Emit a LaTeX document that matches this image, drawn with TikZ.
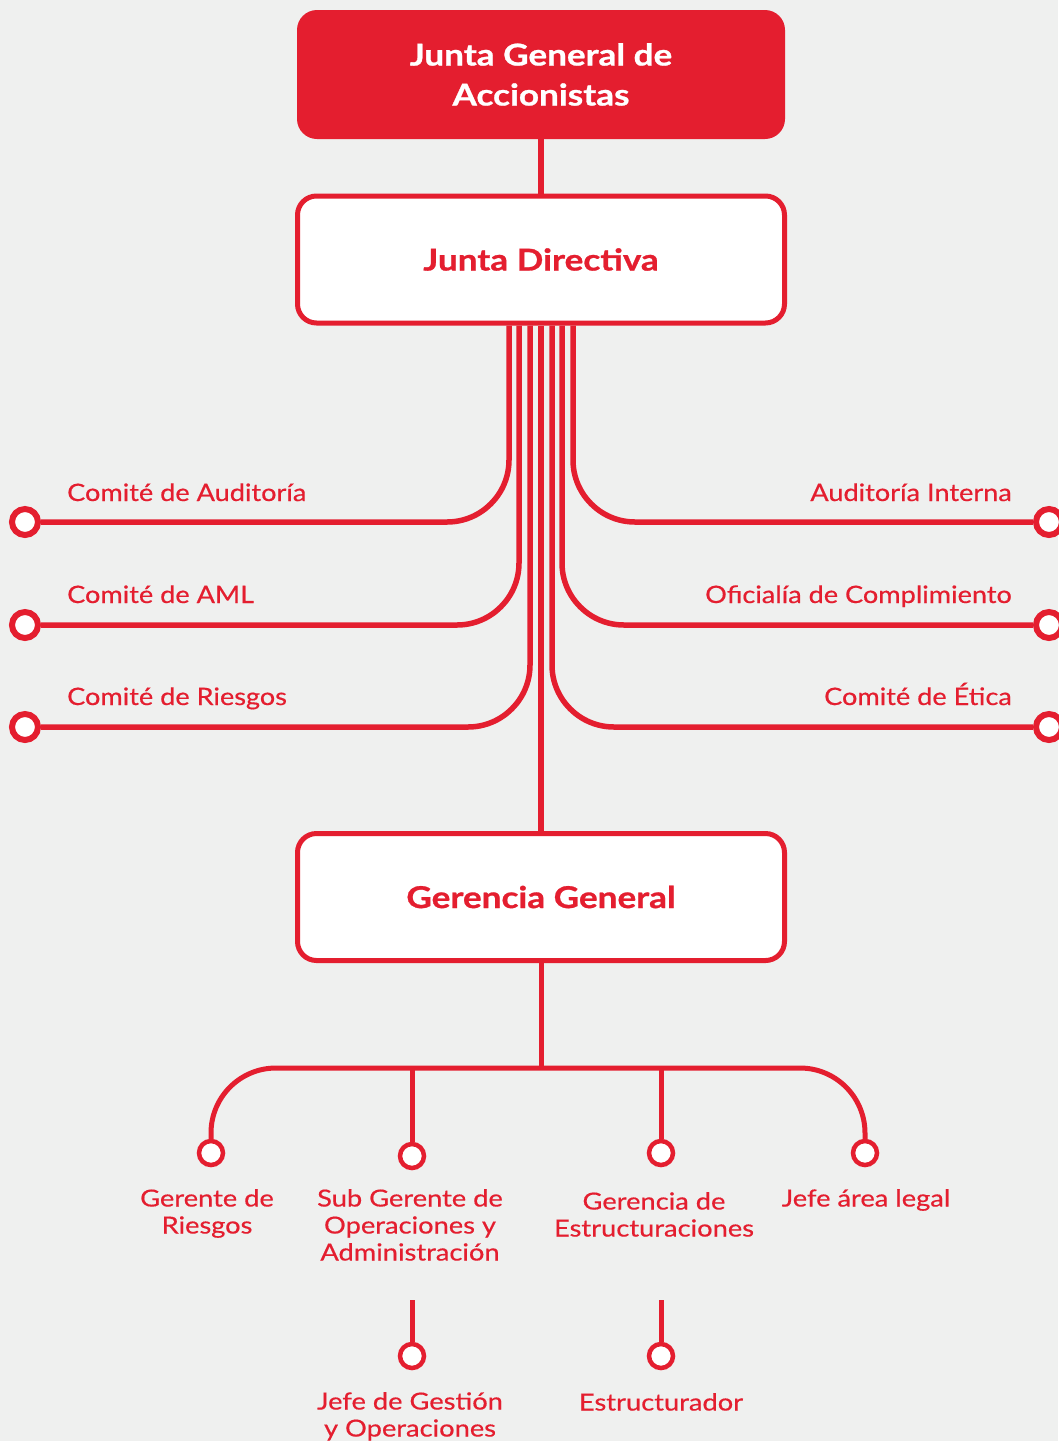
\documentclass[tikz,border=0pt]{standalone}
\usepackage{fontspec}
\setmainfont{Lato}
\newfontfamily\lblfont[FakeBold=0.5,FakeStretch=1.13]{Lato}
\newfontfamily\leaffont[FakeBold=0.5,FakeStretch=1.16]{Lato}
\newfontfamily\titlefont[FakeStretch=1.17,BoldFeatures={FakeBold=0.9}]{Lato}
\usetikzlibrary{backgrounds,calc}
\definecolor{brand}{HTML}{E41E2F}
\definecolor{paper}{HTML}{EFF0EF}
\begin{document}
\begin{tikzpicture}[x=1pt,y=-1pt,
  topbox/.style={fill=brand, text=white, rounded corners=20pt, minimum width=488pt, minimum height=129pt,
    inner sep=0pt, align=center, font=\titlefont\bfseries\fontsize{30}{40}\selectfont},
  midbox/.style={draw=brand, line width=5pt, fill=white, text=brand, rounded corners=19pt,
    minimum width=487pt, minimum height=127pt, inner sep=0pt, font=\titlefont\bfseries\fontsize{30}{36}\selectfont},
  sidedot/.style={circle, draw=brand, line width=6pt, fill=white, minimum size=26pt, inner sep=0pt},
  leafdot/.style={circle, draw=brand, line width=4.5pt, fill=white, minimum size=24pt, inner sep=0pt},
  sidelbl/.style={text=brand, inner sep=0pt, font=\lblfont\fontsize{24}{28}\selectfont},
  leaflbl/.style={text=brand, inner sep=0pt, anchor=north, align=center, font=\leaffont\fontsize{23.5}{27}\selectfont},
  wire/.style={draw=brand, line width=5.5pt},
  thin wire/.style={draw=brand, line width=5pt}]
\useasboundingbox (0,0) rectangle (1058,1441);

% boxes
\node[topbox] (jga) at (541,74.5) {Junta General de\\Accionistas};
\node[midbox] (jd) at (541,259.5) {Junta Directiva};
\node[midbox] (gg) at (541,897) {Gerencia General};

% side endpoints
\node[sidedot] (ca) at (25,522) {};
\node[sidedot] (caml) at (25,625) {};
\node[sidedot] (cr) at (25,727) {};
\node[sidedot] (ai) at (1049,522) {};
\node[sidedot] (oc) at (1049,625) {};
\node[sidedot] (ce) at (1049,727) {};

% side labels
\node[sidelbl, anchor=base west] (lca) at (67,501) {Comité de Auditoría};
\node[sidelbl, anchor=base west] (lcaml) at (67,603) {Comité de AML};
\node[sidelbl, anchor=base west] (lcr) at (67,705) {Comité de Riesgos};
\node[sidelbl, anchor=base east] (lai) at (1012,501) {Auditoría Interna};
\node[sidelbl, anchor=base east] (loc) at (1012,603) {Oficialía de Complimiento};
\node[sidelbl, anchor=base east] (lce) at (1012,705) {Comité de Ética};

% lower endpoints
\node[leafdot] (gr) at (211,1153) {};
\node[leafdot] (sg) at (412,1156) {};
\node[leafdot] (ge) at (661,1153) {};
\node[leafdot] (jl) at (865,1153) {};
\node[leafdot] (jgo) at (412,1356) {};
\node[leafdot] (es) at (661,1356) {};

% lower labels
\node[leaflbl] (lgr) at (207,1189) {Gerente de\\Riesgos};
\node[leaflbl] (lsg) at (410,1189) {Sub Gerente de\\Operaciones y\\Administración};
\node[leaflbl] (lge) at (654,1192) {Gerencia de\\Estructuraciones};
\node[leaflbl] (ljl) at (866,1189) {Jefe área legal};
\node[leaflbl] (ljgo) at (410,1392) {Jefe de Gestión\\y Operaciones};
\node[leaflbl] (les) at (661,1393) {Estructurador};

\coordinate (hub) at (541,1068);
\coordinate (jgotop) at (412,1300);
\coordinate (estop) at (661,1300);

\begin{pgfonlayer}{background}
  \fill[paper] (0,0) rectangle (1058,1441);
  \path[wire] (jga.south) -- (jd.north);
  \path[wire, rounded corners=62pt] ($(jd.south)+(-32,0)$) |- (ca);
  \path[wire, rounded corners=62pt] ($(jd.south)+(-22,0)$) |- (caml);
  \path[wire, rounded corners=62pt] ($(jd.south)+(-11,0)$) |- (cr);
  \path[wire] (jd.south) -- (gg.north);
  \path[wire, rounded corners=62pt] ($(jd.south)+(11,0)$) |- (ce);
  \path[wire, rounded corners=62pt] ($(jd.south)+(21,0)$) |- (oc);
  \path[wire, rounded corners=62pt] ($(jd.south)+(32,0)$) |- (ai);
  \path[thin wire] (gg.south) -- (hub);
  \path[thin wire, rounded corners=65pt] (gr.north) |- (hub) -| (jl.north);
  \path[thin wire] (sg.north) -- (sg.north |- hub);
  \path[thin wire] (ge.north) -- (ge.north |- hub);
  \path[thin wire] (jgotop) -- (jgo.north);
  \path[thin wire] (estop) -- (es.north);
\end{pgfonlayer}
\end{tikzpicture}
\end{document}
